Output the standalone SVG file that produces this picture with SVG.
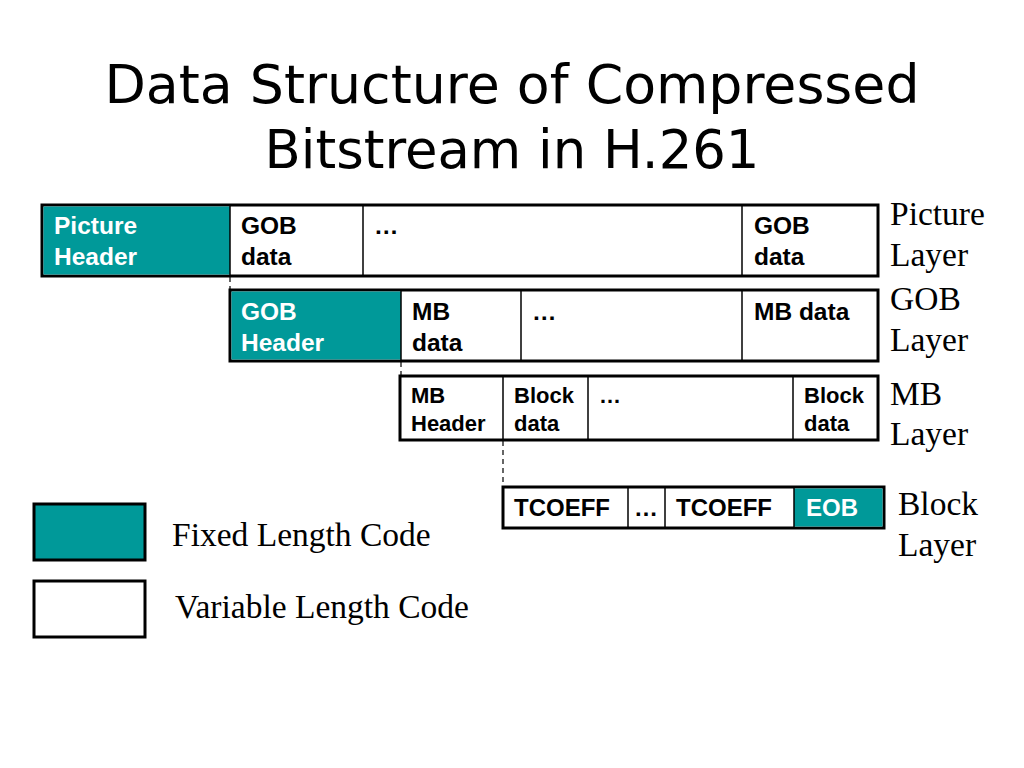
<svg xmlns="http://www.w3.org/2000/svg" width="1024" height="768" viewBox="0 0 1024 768">
<style>
.t{font-family:"DejaVu Sans",sans-serif;font-size:54px;fill:#000;text-anchor:middle}
.b{font-family:"Liberation Sans",Arial,sans-serif;font-weight:bold;font-size:24.5px;fill:#000}
.s{font-size:22px}
.m{font-size:24px}
.w{fill:#fff}
.r{font-family:"Liberation Serif","Times New Roman",serif;font-size:33.5px;fill:#000}
.box{fill:#fff;stroke:#000;stroke-width:3}
.teal{fill:#009999}
.div{stroke:#000;stroke-width:1.5}
.dash{stroke:#000;stroke-width:1.2;stroke-dasharray:5,4;fill:none}
</style>
<rect width="1024" height="768" fill="#fff"/>
<g id="title">
<text class="t" x="512" y="103" textLength="815" lengthAdjust="spacingAndGlyphs">Data Structure of Compressed</text>
<text class="t" x="512" y="168" textLength="495" lengthAdjust="spacingAndGlyphs">Bitstream in H.261</text>
</g>
<g id="connectors">
<line class="dash" x1="230" y1="277" x2="230" y2="290"/>
<line class="dash" x1="401" y1="362" x2="401" y2="375"/>
<line class="dash" x1="503" y1="441" x2="503" y2="486"/>
</g>
<g id="picture-layer">
<rect class="box" x="42" y="205" width="836" height="71"/>
<rect class="teal" x="43.5" y="206.5" width="186.5" height="68"/>
<line class="div" x1="230" y1="205" x2="230" y2="276"/>
<line class="div" x1="363" y1="205" x2="363" y2="276"/>
<line class="div" x1="742" y1="205" x2="742" y2="276"/>
<text class="b w" x="54" y="234">Picture</text>
<text class="b w" x="54" y="265">Header</text>
<text class="b" x="241" y="234">GOB</text>
<text class="b" x="241" y="265">data</text>
<text class="b" x="374" y="234">…</text>
<text class="b" x="754" y="234">GOB</text>
<text class="b" x="754" y="265">data</text>
<text class="r" x="890" y="225">Picture</text>
<text class="r" x="890" y="266">Layer</text>
</g>
<g id="gob-layer">
<rect class="box" x="230" y="290" width="648" height="71"/>
<rect class="teal" x="231.5" y="291.5" width="169.5" height="68"/>
<line class="div" x1="401" y1="290" x2="401" y2="361"/>
<line class="div" x1="521" y1="290" x2="521" y2="361"/>
<line class="div" x1="742" y1="290" x2="742" y2="361"/>
<text class="b w" x="241" y="320">GOB</text>
<text class="b w" x="241" y="351">Header</text>
<text class="b" x="412" y="320">MB</text>
<text class="b" x="412" y="351">data</text>
<text class="b" x="532" y="320">…</text>
<text class="b" x="754" y="320">MB data</text>
<text class="r" x="890" y="310">GOB</text>
<text class="r" x="890" y="351">Layer</text>
</g>
<g id="mb-layer">
<rect class="box" x="400" y="376" width="478" height="64"/>
<line class="div" x1="503" y1="376" x2="503" y2="440"/>
<line class="div" x1="588" y1="376" x2="588" y2="440"/>
<line class="div" x1="793" y1="376" x2="793" y2="440"/>
<text class="b s" x="411" y="403">MB</text>
<text class="b s" x="411" y="431">Header</text>
<text class="b s" x="514" y="403">Block</text>
<text class="b s" x="514" y="431">data</text>
<text class="b s" x="599" y="403">…</text>
<text class="b s" x="804" y="403">Block</text>
<text class="b s" x="804" y="431">data</text>
<text class="r" x="890" y="405">MB</text>
<text class="r" x="890" y="445">Layer</text>
</g>
<g id="block-layer">
<rect class="box" x="503" y="487" width="381" height="41"/>
<rect class="teal" x="794" y="488.5" width="88.5" height="38"/>
<line class="div" x1="628" y1="487" x2="628" y2="528"/>
<line class="div" x1="665" y1="487" x2="665" y2="528"/>
<line class="div" x1="794" y1="487" x2="794" y2="528"/>
<text class="b m" x="514" y="516">TCOEFF</text>
<text class="b m" x="634" y="516">…</text>
<text class="b m" x="676" y="516">TCOEFF</text>
<text class="b m w" x="806" y="516">EOB</text>
<text class="r" x="898" y="515">Block</text>
<text class="r" x="898" y="556">Layer</text>
</g>
<g id="legend-fixed">
<rect x="34" y="504" width="111" height="56" fill="#009999" stroke="#000" stroke-width="3"/>
<text class="r" x="172" y="546">Fixed Length Code</text>
</g>
<g id="legend-variable">
<rect class="box" x="34" y="581" width="111" height="56"/>
<text class="r" x="175" y="618">Variable Length Code</text>
</g>
</svg>
